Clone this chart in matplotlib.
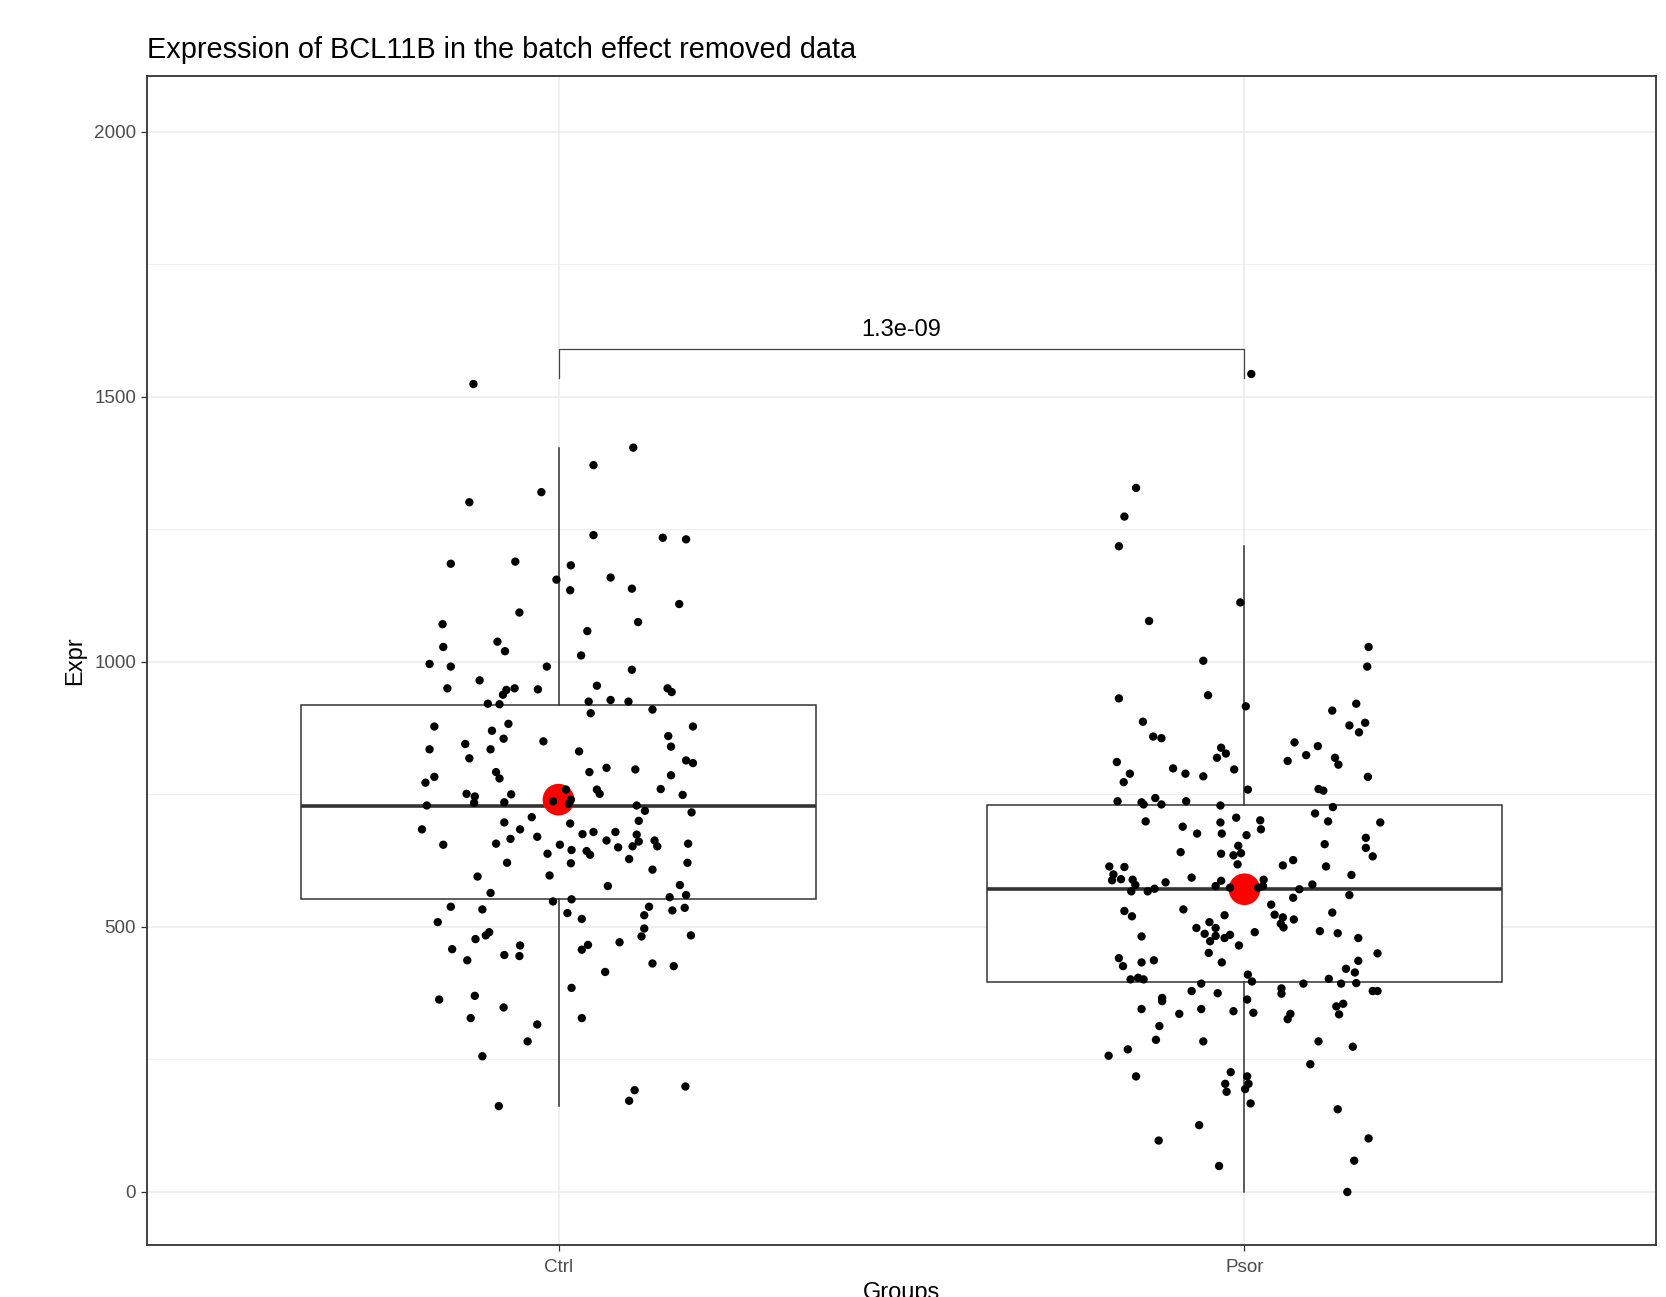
import numpy as np
import matplotlib
matplotlib.use("Agg")
import matplotlib.pyplot as plt

plt.rcParams['font.family'] = ['Liberation Sans', 'DejaVu Sans']

groups = ["Ctrl", "Psor"]

# jittered samples: horizontal offset from the group centre, expression value
ctrl_jitter = [-0.124, 0.109, 0.051, -0.025, -0.130, 0.051, 0.152, 0.186,
               -0.157, -0.063, 0.018, -0.003, 0.017, 0.076, 0.107, 0.176, -0.057, 0.116,
               -0.169, 0.042, -0.089, -0.168, -0.078, 0.033, -0.188, -0.157, -0.017, 0.107,
               -0.115, -0.162, -0.076, -0.081, -0.064, -0.030, 0.056, 0.159, 0.165, -0.103,
               -0.086, 0.044, 0.076, 0.102, 0.047, 0.137, -0.181, -0.073, -0.097, 0.196,
               0.160, -0.136, -0.080, -0.022, 0.164, -0.188, -0.099, 0.030,
               -0.130, -0.181, -0.194, -0.091, -0.086, 0.045, 0.070, 0.112, 0.164, 0.186,
               0.196, 0.149, 0.181, -0.134, -0.122, -0.069, -0.192, -0.123, -0.079, 0.011,
               -0.008, 0.018, 0.015, 0.056, 0.060, 0.114, 0.126, 0.194, -0.199, -0.079,
               -0.039, 0.017, 0.117, -0.056, -0.168, -0.091, -0.070, -0.031, 0.035, 0.051,
               0.083, 0.070, 0.114, 0.117, 0.108, 0.087, 0.140, 0.144, 0.189, 0.002,
               0.019, 0.041, 0.046, -0.016, 0.018, -0.075, 0.103, 0.188, 0.137, -0.118,
               -0.013, 0.072, 0.177, -0.099, 0.162, 0.186, -0.008, 0.019, -0.157, -0.111,
               0.132, 0.166, 0.184, 0.013, 0.034, 0.125, -0.176, -0.101, -0.106, -0.121,
               0.125, 0.121, 0.193, 0.089, -0.056, 0.043,
               -0.155, -0.133, -0.079, -0.057, 0.034, 0.137, 0.168, 0.068, 0.019, -0.174,
               -0.122, -0.080, -0.128, 0.034, -0.031, -0.045, -0.111, 0.185, 0.111, 0.103,
               -0.087]
ctrl_expr = [1524, 1404, 1371, 1320, 1301, 1239, 1234, 1231,
             1185, 1189, 1182, 1155, 1135, 1159, 1138, 1109, 1093, 1075,
             1071, 1058, 1038, 1028, 1020, 1012, 996, 991, 991, 985,
             965, 950, 947, 938, 950, 948, 955, 950, 943, 921,
             920, 925, 928, 925, 903, 910, 878, 883, 870, 878,
             860, 845, 855, 850, 840, 835, 835, 831,
             818, 783, 772, 792, 780, 792, 800, 797, 786, 814,
             809, 760, 749, 751, 746, 750, 729, 734, 735, 759,
             737, 740, 732, 759, 751, 729, 719, 716, 684, 697,
             707, 695, 700, 684, 655, 657, 666, 670, 675, 679,
             679, 663, 674, 661, 652, 650, 663, 652, 657, 655,
             645, 643, 636, 638, 620, 621, 628, 621, 608, 595,
             597, 577, 579, 564, 556, 560, 548, 552, 538, 533,
             538, 531, 536, 526, 515, 522, 509, 490, 484, 477,
             497, 482, 484, 471, 465, 466,
             458, 437, 447, 445, 457, 431, 426, 415, 385, 363,
             370, 348, 328, 328, 316, 284, 256, 199, 192, 172,
             162]

psor_jitter = [0.010, -0.158, -0.175, -0.183,
               -0.006, -0.139, -0.060, 0.181, 0.179, -0.183, -0.053, 0.002, 0.163, 0.128,
               -0.148, 0.153, 0.176, 0.167, -0.133, -0.121, 0.073, 0.107,
               -0.034, -0.027, -0.040, -0.186, -0.167, -0.176, -0.104, -0.086, -0.060, -0.015,
               0.063, 0.090, 0.132, 0.137, 0.180, 0.005, 0.108, 0.115, -0.185, -0.150,
               -0.147, -0.130, -0.121, -0.085, -0.035, 0.129, 0.103, 0.122, 0.198, -0.144,
               -0.090, -0.035, -0.012, 0.023, 0.024, -0.069, -0.033, 0.003, 0.177, 0.117,
               0.177, 0.187, -0.009, -0.093, -0.034, -0.016, -0.005, -0.010, 0.056, 0.071,
               0.119, -0.197, -0.175, -0.191, -0.193, -0.180, -0.163, -0.159, -0.165, -0.141,
               -0.131, -0.115, -0.077, -0.034, -0.042, -0.021, 0.020, 0.028, 0.027, 0.080,
               0.099, 0.156, 0.153, 0.071, 0.039, 0.044, 0.056, 0.072, 0.053, 0.057,
               0.128, -0.175, -0.164, -0.089, -0.029, -0.051, -0.042, -0.070, -0.058, -0.042,
               -0.029, -0.021, -0.050, 0.015, 0.110, 0.136, 0.166, -0.150,
               -0.008, -0.052, -0.033, -0.183, -0.177, -0.150, -0.132, 0.194, 0.166, 0.148,
               0.161, -0.166, -0.155, -0.147, 0.005, 0.011, -0.063, 0.086, 0.123, 0.141,
               0.163, -0.077, -0.039, 0.054, 0.054, 0.187, 0.194, -0.120, -0.120, 0.004,
               -0.150, -0.063, -0.095, -0.016, 0.013, 0.067, 0.063, 0.134, 0.144, 0.138,
               -0.124, -0.129, -0.060, -0.170, -0.198, 0.108, 0.158, 0.096, -0.158, -0.020,
               0.004, -0.028, 0.006, -0.026, 0.001, 0.009, 0.136, -0.066, -0.125, 0.181,
               -0.037, 0.160, 0.150]
psor_expr = [1543, 1328, 1274, 1218,
             1112, 1077, 1002, 1028, 991, 931, 937, 916, 921, 908,
             887, 880, 885, 867, 859, 856, 848, 841,
             838, 827, 819, 811, 789, 773, 799, 789, 784, 797,
             813, 824, 819, 806, 783, 759, 760, 757, 737, 735,
             731, 743, 731, 737, 729, 726, 714, 699, 697, 699,
             689, 697, 706, 701, 684, 676, 676, 673, 668, 656,
             649, 633, 653, 641, 638, 635, 639, 618, 616, 626,
             614, 614, 613, 599, 588, 590, 589, 579, 567, 567,
             572, 584, 593, 587, 577, 574, 574, 589, 577, 571,
             580, 598, 560, 555, 542, 523, 518, 514, 506, 499,
             527, 530, 520, 533, 522, 509, 498, 498, 487, 483,
             479, 485, 473, 490, 492, 488, 479, 482,
             465, 451, 433, 441, 426, 433, 437, 450, 436, 421,
             414, 401, 404, 401, 410, 397, 393, 393, 402, 393,
             394, 379, 375, 384, 374, 379, 379, 366, 360, 363,
             345, 345, 336, 341, 338, 336, 326, 350, 355, 335,
             313, 287, 284, 269, 257, 284, 274, 241, 218, 226,
             218, 204, 204, 189, 194, 167, 156, 126, 97, 101,
             49, 59, 0]

# box summaries per group
box_whislo = [162, 0]
box_q1 = [553, 397]
box_median = [728, 572]
box_q3 = [919, 730]
box_whishi = [1404, 1218]
group_mean = [740, 571]

p_label = "1.3e-09"
bracket_y = 1590
bracket_tip = 1535

fig = plt.figure(figsize=(16.66, 12.97), dpi=100)
ax = fig.add_axes([0.0882, 0.0401, 0.9058, 0.9013])

positions = np.arange(1, len(groups) + 1)

stats = []
for i in range(len(groups)):
    stats.append({'whislo': box_whislo[i], 'q1': box_q1[i], 'med': box_median[i],
                  'q3': box_q3[i], 'whishi': box_whishi[i], 'fliers': []})

ax.bxp(stats, positions=positions, widths=0.75, showcaps=False, showfliers=False,
       patch_artist=True,
       boxprops=dict(facecolor='white', edgecolor='#333333', linewidth=1.1),
       whiskerprops=dict(color='#333333', linewidth=1.1),
       medianprops=dict(color='#333333', linewidth=2.6, solid_capstyle='butt'),
       zorder=2)

# group means
ax.scatter(positions, group_mean, s=520, color='#FF0000', edgecolors='none', zorder=3)

# jittered points
ax.scatter(1 + np.array(ctrl_jitter), ctrl_expr, s=36, color='black', edgecolors='none', zorder=4)
ax.scatter(2 + np.array(psor_jitter), psor_expr, s=36, color='black', edgecolors='none', zorder=4)

# significance bracket
ax.plot([1, 1, 2, 2], [bracket_tip, bracket_y, bracket_y, bracket_tip],
        color='#444444', linewidth=0.9, zorder=3)
ax.text(1.5, bracket_y + 25, p_label, ha='center', va='baseline', fontsize=17, color='black')

ax.set_xlim(0.4, 2.6)
ax.set_ylim(-100, 2105)
ax.set_xticks(positions)
ax.set_xticklabels(groups)
ax.set_yticks([0, 500, 1000, 1500, 2000])
ax.set_yticks([250, 750, 1250, 1750], minor=True)
ax.set_xticks([], minor=True)

ax.set_axisbelow(True)
ax.grid(True, which='major', color='#EBEBEB', linewidth=1.1)
ax.grid(True, which='minor', axis='y', color='#EBEBEB', linewidth=0.55)
ax.tick_params(axis='both', which='major', length=4.3, width=0.9, color='#333333',
               labelsize=13.6, labelcolor='#4D4D4D', pad=3.5)
ax.tick_params(axis='x', which='major', pad=6)
ax.tick_params(axis='both', which='minor', length=0)

for sp in ax.spines.values():
    sp.set_color('#333333')
    sp.set_linewidth(1.3)

ax.set_xlabel("Groups", fontsize=17, labelpad=4)
ax.set_ylabel("Expr", fontsize=17, labelpad=6)

fig.text(147 / 1666, 1 - 58 / 1297, "Expression of BCL11B in the batch effect removed data",
         fontsize=20.8, ha='left', va='baseline')

fig.savefig("out.png", dpi=100)
